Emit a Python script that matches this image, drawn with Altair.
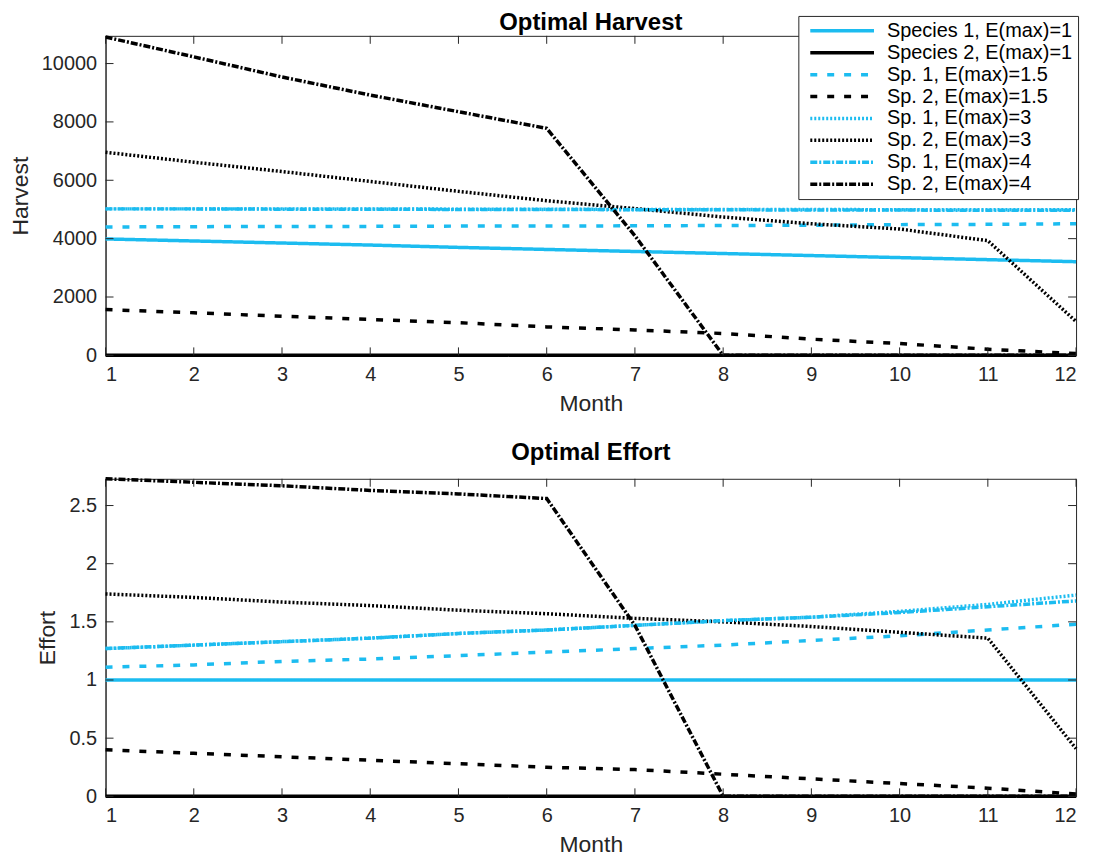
import altair as alt
import pandas as pd

months = list(range(1, 13))

series_names = [
    "Species 1, E(max)=1",
    "Species 2, E(max)=1",
    "Sp. 1, E(max)=1.5",
    "Sp. 2, E(max)=1.5",
    "Sp. 1, E(max)=3",
    "Sp. 2, E(max)=3",
    "Sp. 1, E(max)=4",
    "Sp. 2, E(max)=4",
]

# optimal harvest
harvest_sp1_e1 = [3990, 3920, 3850, 3780, 3700, 3630, 3560, 3490, 3420, 3350, 3280, 3210]
harvest_sp2_e1 = [0, 0, 0, 0, 0, 0, 0, 0, 0, 0, 0, 0]
harvest_sp1_e15 = [4400, 4410, 4420, 4420, 4430, 4430, 4440, 4450, 4460, 4480, 4490, 4510]
harvest_sp2_e15 = [1570, 1460, 1340, 1230, 1120, 975, 870, 750, 555, 405, 210, 60]
harvest_sp1_e3 = [5020, 5020, 5020, 5020, 5010, 5010, 5000, 5000, 5000, 4990, 4990, 4990]
harvest_sp2_e3 = [6960, 6620, 6300, 5960, 5620, 5300, 5030, 4740, 4510, 4330, 3930, 1160]
harvest_sp1_e4 = [5020, 5020, 5010, 5010, 5000, 5000, 4990, 4990, 4980, 4980, 4970, 4970]
harvest_sp2_e4 = [10910, 10230, 9540, 8920, 8350, 7780, 4100, 0, 0, 0, 0, 0]

# optimal effort
effort_sp1_e1 = [1, 1, 1, 1, 1, 1, 1, 1, 1, 1, 1, 1]
effort_sp2_e1 = [0, 0, 0, 0, 0, 0, 0, 0, 0, 0, 0, 0]
effort_sp1_e15 = [1.11, 1.13, 1.16, 1.18, 1.21, 1.24, 1.27, 1.30, 1.34, 1.38, 1.43, 1.48]
effort_sp2_e15 = [0.40, 0.37, 0.34, 0.31, 0.28, 0.25, 0.23, 0.19, 0.15, 0.11, 0.07, 0.02]
effort_sp1_e3 = [1.27, 1.30, 1.33, 1.36, 1.40, 1.43, 1.47, 1.51, 1.54, 1.59, 1.65, 1.73]
effort_sp2_e3 = [1.74, 1.71, 1.67, 1.64, 1.60, 1.57, 1.53, 1.50, 1.46, 1.41, 1.36, 0.41]
effort_sp1_e4 = [1.27, 1.30, 1.33, 1.36, 1.40, 1.43, 1.47, 1.51, 1.54, 1.58, 1.63, 1.68]
effort_sp2_e4 = [2.73, 2.70, 2.67, 2.63, 2.60, 2.56, 1.47, 0, 0, 0, 0, 0]

harvest_ticks = [0, 2000, 4000, 6000, 8000, 10000]
effort_ticks = [0, 0.5, 1, 1.5, 2, 2.5]

CYAN = "#1cbcf0"
INK = "#262626"
W = 975
TICK = 8


def long_frame(cols):
    rows = []
    for name, vals in zip(series_names, cols):
        for m, v in zip(months, vals):
            rows.append({"Month": m, "value": v, "series": name})
    return pd.DataFrame(rows)


harvest = long_frame([harvest_sp1_e1, harvest_sp2_e1, harvest_sp1_e15, harvest_sp2_e15,
                      harvest_sp1_e3, harvest_sp2_e3, harvest_sp1_e4, harvest_sp2_e4])
effort = long_frame([effort_sp1_e1, effort_sp2_e1, effort_sp1_e15, effort_sp2_e15,
                     effort_sp1_e3, effort_sp2_e3, effort_sp1_e4, effort_sp2_e4])

colors = [CYAN, "black"] * 4
dashes = [[1, 0], [1, 0], [7, 10], [7, 10], [2, 2], [2, 2], [7, 2, 2, 2], [7, 2, 2, 2]]

# short custom path so the rows stay compact while the sample line is long
legend = alt.Legend(
    orient="none", legendX=696, legendY=-20, title=None,
    symbolType="M-32,0H32", symbolSize=4, symbolStrokeWidth=3.5,
    symbolOffset=29, labelOffset=35,
    labelFontSize=20, labelLimit=400, rowPadding=2,
    strokeColor=INK, fillColor="white", padding=5,
)


def panel(df, title, ytitle, ymax, yticks, fmt, h, show_legend, title_offset):
    leg = legend if show_legend else None
    xscale = alt.Scale(domain=[1, 12], nice=False, zero=False)
    yscale = alt.Scale(domain=[0, ymax], nice=False)
    lines = alt.Chart(df).mark_line(strokeWidth=3.5).encode(
        x=alt.X("Month:Q", scale=xscale,
                axis=alt.Axis(values=months, format="d", title="Month")),
        y=alt.Y("value:Q", scale=yscale,
                axis=alt.Axis(values=yticks, format=fmt, title=ytitle)),
        color=alt.Color("series:N", scale=alt.Scale(domain=series_names, range=colors), legend=leg),
        strokeDash=alt.StrokeDash("series:N", scale=alt.Scale(domain=series_names, range=dashes), legend=leg),
    )
    xt = pd.DataFrame({"t": months})
    yt = pd.DataFrame({"t": yticks})
    top_ticks = alt.Chart(xt).mark_rule(color=INK).encode(
        x="t:Q", y=alt.value(0), y2=alt.value(TICK))
    bottom_ticks = alt.Chart(xt).mark_rule(color=INK).encode(
        x="t:Q", y=alt.value(h - TICK), y2=alt.value(h))
    left_ticks = alt.Chart(yt).mark_rule(color=INK).encode(
        y="t:Q", x=alt.value(0), x2=alt.value(TICK))
    right_ticks = alt.Chart(yt).mark_rule(color=INK).encode(
        y="t:Q", x=alt.value(W - TICK), x2=alt.value(W))
    return alt.layer(lines, top_ticks, bottom_ticks, left_ticks, right_ticks).properties(
        width=W, height=h,
        title=alt.TitleParams(title, fontSize=24, fontWeight="bold", anchor="middle",
                              offset=title_offset, color="black"),
    )


top = panel(harvest, "Optimal Harvest", "Harvest", 10950, harvest_ticks, "d", 321, True, -20)
bottom = panel(effort, "Optimal Effort", "Effort", 2.73, effort_ticks, "~g", 319, False, 7)

chart = alt.vconcat(top, bottom, spacing=24).resolve_scale(
    color="independent", strokeDash="independent"
).properties(
    padding={"left": 0, "top": 1, "right": 5, "bottom": 0}
).configure(
    font="Liberation Sans"
).configure_view(
    stroke=INK, strokeWidth=1
).configure_axis(
    domainColor=INK, labelColor=INK, titleColor=INK, ticks=False, grid=False,
    labelFontSize=20, titleFontSize=23, titleFontWeight="normal",
    labelPadding=9, titlePadding=6,
).configure_axisY(
    titlePadding=9,
).configure_axisX(
    labelPadding=9, titlePadding=8,
)

chart.save("out.html", embed_options={"renderer": "svg", "actions": False})
